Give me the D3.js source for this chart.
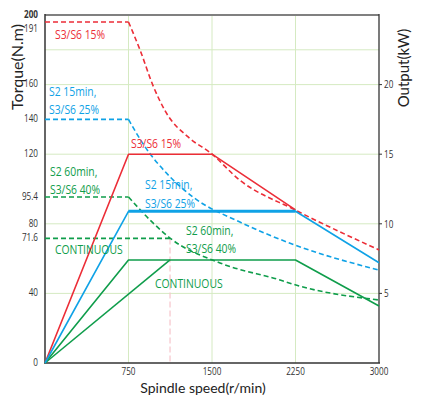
<!DOCTYPE html>
<html>
<head>
<meta charset="utf-8">
<script src="https://cdn.jsdelivr.net/npm/d3@7"></script>
<style>
  body { margin: 0; background: #fff; }
  svg { display: block; }
  .tick-label { font-family: "Open Sans", sans-serif; font-size: 11px; fill: #333; }
  .curve-label { font-family: "Open Sans", sans-serif; font-size: 12.5px; }
  .axis-title { font-family: Lato, "Open Sans", sans-serif; fill: #222; }
</style>
</head>
<body>
<div id="chart"></div>
<script>
// axis values
var speedTicks = [750, 1500, 2250, 3000];
var torqueTicks = [0, 40, 71.6, 80, 95.4, 120, 140, 160, 191, 200];
var powerTicks = [5, 10, 15, 20];
var gridTorque = [40, 80, 120, 160, 180];
var gridSpeed = [750, 1500, 2250];

// torque curves (N.m), dashed
var torqueS3_15 = [[0, 196], [750, 196], [853, 180], [973, 159], [1078, 145], [1302, 129], [1482, 121], [1751, 105], [2245, 88], [3000, 65]];
var torqueS2_15 = [[0, 140], [750, 140], [880, 126], [1123, 107], [1329, 95.4], [1751, 81], [2245, 67.8], [3000, 53.4]];
var torqueS2_60 = [[0, 95.4], [750, 95.4], [970, 80.5], [1123, 71.8], [1572, 57.5], [2111, 47.7], [2254, 44.8], [3000, 36.2]];
var torqueCont = [[0, 71.6], [1123, 71.6]];

// power curves (kW), solid
var powerS3_15 = [[0, 0], [750, 15], [1500, 15], [2250, 11]];
var powerS2_15 = [[0, 0], [750, 10.9], [2250, 10.9], [3000, 7.2]];
var powerS2_60 = [[0, 0], [750, 7.4], [2250, 7.4], [3000, 4.1]];
var powerCont = [[0, 0], [1123, 7.4]];
var contBaseSpeed = 1123;

var RED = "#ec2d37", BLUE = "#0fa2e6", GREEN = "#0f9d4b";
var NARROW = 0.74; // squeeze for the condensed face of the original

var W = 422, H = 399;
var margin = {top: 15, right: 43, bottom: 36, left: 45};

var svg = d3.select("#chart").append("svg")
    .attr("width", W)
    .attr("height", H);

var x = d3.scaleLinear().domain([0, 3000]).range([margin.left, W - margin.right]);
var yT = d3.scaleLinear().domain([0, 200]).range([H - margin.bottom, margin.top]);
var yP = d3.scaleLinear().domain([0, 25]).range([H - margin.bottom, margin.top]);

//grid
svg.append("g").selectAll("line").data(gridTorque).enter().append("line")
    .attr("x1", x(0)).attr("x2", x(3000))
    .attr("y1", d => yT(d)).attr("y2", d => yT(d))
    .attr("stroke", "#d5eac2").attr("stroke-width", 1);
svg.append("g").selectAll("line").data(gridSpeed).enter().append("line")
    .attr("x1", d => x(d)).attr("x2", d => x(d))
    .attr("y1", yT(0)).attr("y2", yT(200))
    .attr("stroke", "#d5eac2").attr("stroke-width", 1);

// pink marker at continuous base speed
svg.append("line")
    .attr("x1", x(contBaseSpeed)).attr("x2", x(contBaseSpeed))
    .attr("y1", yT(71.6)).attr("y2", yT(0))
    .attr("stroke", "#f6c4cb").attr("stroke-width", 1.2)
    .attr("stroke-dasharray", "6,3");

// frame
svg.append("line").attr("x1", x(0)).attr("x2", x(3000)).attr("y1", yT(200)).attr("y2", yT(200))
    .attr("stroke", "#808080").attr("stroke-width", 2);
svg.append("line").attr("x1", x(0)).attr("x2", x(0)).attr("y1", yT(200) - 1).attr("y2", yT(0))
    .attr("stroke", "#333").attr("stroke-width", 1.5);
svg.append("line").attr("x1", x(3000)).attr("x2", x(3000)).attr("y1", yT(200) - 1).attr("y2", yT(0))
    .attr("stroke", "#333").attr("stroke-width", 1.3);
svg.append("line").attr("x1", x(0) - 1).attr("x2", x(3000) + 1).attr("y1", yT(0)).attr("y2", yT(0))
    .attr("stroke", "#333").attr("stroke-width", 1.5);

// right ticks
svg.append("g").selectAll("line").data(powerTicks).enter().append("line")
    .attr("x1", x(3000)).attr("x2", x(3000) + 3)
    .attr("y1", d => yP(d)).attr("y2", d => yP(d))
    .attr("stroke", "#333").attr("stroke-width", 1);

function squeeze(px, py, s) {
    return "translate(" + px + "," + py + ") scale(" + (s || NARROW) + ",1)";
}

// tick labels
svg.append("g").selectAll("text").data(torqueTicks).enter().append("text")
    .attr("class", "tick-label")
    .attr("transform", d => squeeze(x(0) - 7, yT(d) - (d == 191 ? 3 : 1)))
    .attr("dy", "0.35em")
    .attr("text-anchor", "end")
    .style("font-weight", d => d == 200 ? "bold" : "normal")
    .text(d => d);
svg.append("g").selectAll("text").data(powerTicks).enter().append("text")
    .attr("class", "tick-label")
    .attr("transform", d => squeeze(x(3000) + 5, yP(d)))
    .attr("dy", "0.35em")
    .text(d => d);
svg.append("g").selectAll("text").data(speedTicks).enter().append("text")
    .attr("class", "tick-label")
    .attr("transform", d => squeeze(x(d), yT(0) + 12))
    .attr("text-anchor", "middle")
    .text(d => d);

// axis titles
svg.append("text").attr("class", "axis-title")
    .attr("transform", "translate(23,67) rotate(-90)")
    .attr("text-anchor", "middle")
    .style("font-size", "16px")
    .text("Torque(N.m)");
svg.append("text").attr("class", "axis-title")
    .attr("transform", "translate(409,68) rotate(-90)")
    .attr("text-anchor", "middle")
    .style("font-size", "15px")
    .text("Output(kW)");
svg.append("text").attr("class", "axis-title")
    .attr("x", 203).attr("y", 393)
    .attr("text-anchor", "middle")
    .style("font-size", "14px")
    .text("Spindle speed(r/min)");

// lines
var lineT = d3.line().x(d => x(d[0])).y(d => yT(d[1]));
var curveT = d3.line().x(d => x(d[0])).y(d => yT(d[1])).curve(d3.curveMonotoneX);
var lineP = d3.line().x(d => x(d[0])).y(d => yP(d[1]));

function dashedTorque(data, color) {
    // flat part straight, falling part smoothed
    svg.append("path").attr("d", lineT(data.slice(0, 2)))
        .attr("fill", "none").attr("stroke", color).attr("stroke-width", 1.6)
        .attr("stroke-dasharray", "5,3");
    if (data.length > 2) {
        svg.append("path").attr("d", curveT(data.slice(1)))
            .attr("fill", "none").attr("stroke", color).attr("stroke-width", 1.6)
            .attr("stroke-dasharray", "5,3");
    }
}
dashedTorque(torqueS3_15, RED);
dashedTorque(torqueS2_15, BLUE);
dashedTorque(torqueS2_60, GREEN);
dashedTorque(torqueCont, GREEN);

function solidPower(data, color, w) {
    svg.append("path").attr("d", lineP(data))
        .attr("fill", "none").attr("stroke", color).attr("stroke-width", w)
        .attr("stroke-linejoin", "round");
}
solidPower(powerS3_15, RED, 1.6);
solidPower(powerS2_60, GREEN, 1.6);
solidPower(powerCont, GREEN, 1.6);
solidPower(powerS2_15, BLUE, 1.6);
solidPower(powerS2_15.slice(1, 3), BLUE, 2.8);

// curve labels
var labels = [
    {t: "S3/S6 15%", x: 55, y: 39, c: RED},
    {t: "S2 15min,", x: 49, y: 96, c: BLUE},
    {t: "S3/S6 25%", x: 49, y: 113.5, c: BLUE},
    {t: "S2 60min,", x: 50, y: 176, c: GREEN},
    {t: "S3/S6 40%", x: 50, y: 193.5, c: GREEN},
    {t: "CONTINUOUS", x: 55, y: 254, c: GREEN},
    {t: "S3/S6 15%", x: 131, y: 148, c: RED},
    {t: "S2 15min,", x: 145, y: 189, c: BLUE},
    {t: "S3/S6 25%", x: 145, y: 208, c: BLUE},
    {t: "S2 60min,", x: 186, y: 235, c: GREEN},
    {t: "S3/S6 40%", x: 186, y: 252.5, c: GREEN},
    {t: "CONTINUOUS", x: 155, y: 288, c: GREEN}
];
svg.append("g").selectAll("text").data(labels).enter().append("text")
    .attr("class", "curve-label")
    .attr("transform", d => squeeze(d.x, d.y, 0.83))
    .attr("fill", d => d.c)
    .text(d => d.t);
</script>
</body>
</html>
